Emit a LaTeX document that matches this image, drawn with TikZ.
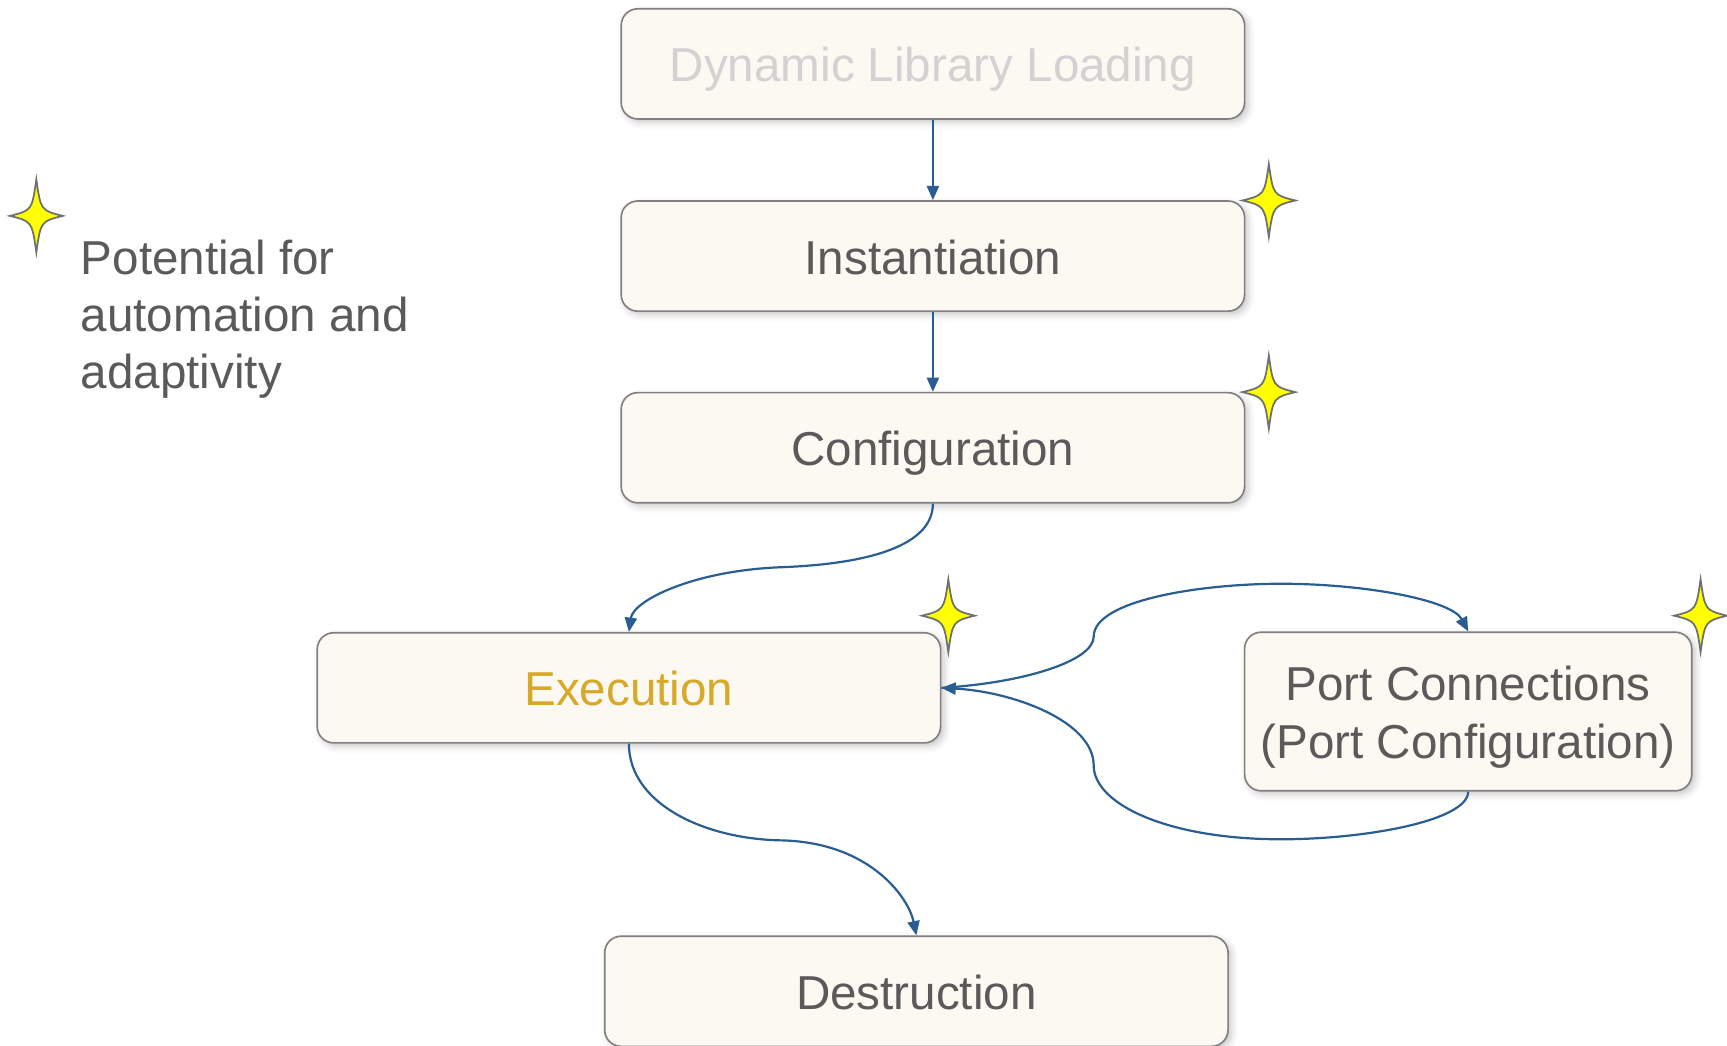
\documentclass[tikz,border=0pt]{standalone}
\usepackage{fontspec}
\setmainfont{Liberation Sans}
\usetikzlibrary{arrows.meta,shadows.blur}
\definecolor{boxfill}{HTML}{FCF8F2}
\definecolor{boxline}{HTML}{808080}
\definecolor{textgray}{HTML}{5A5A5A}
\definecolor{fadedtext}{HTML}{D2D2D2}
\definecolor{goldtext}{HTML}{D8A828}
\definecolor{arrowblue}{HTML}{2A5D92}
\definecolor{stargray}{HTML}{707070}
\definecolor{staryellow}{HTML}{FFFF00}
\begin{document}
\begin{tikzpicture}[x=0.5pt,y=-0.5pt,
  box/.style={draw=boxline, line width=0.75pt, fill=boxfill, rounded corners=7.5pt,
    minimum width=283pt, minimum height=50pt, inner sep=0pt, text=textgray,
    font=\fontsize{21.6}{26.5}\selectfont, align=center,
    text height=18.6pt, text depth=2.2pt,
    blur shadow={shadow xshift=1.5pt, shadow yshift=-1.5pt, shadow blur radius=3pt, shadow opacity=22}},
  conn/.style={draw=arrowblue, line width=1pt, -{Triangle[length=6.5pt,width=5.5pt]}},
  legendtxt/.style={text=textgray, font=\fontsize{21.6}{26}\selectfont, align=left, inner sep=0pt},
  star4/.pic={\draw[fill=staryellow, draw=stargray, line width=0.8pt]
    (0,-33) .. controls (4,-5) .. (24,0) .. controls (4,5) .. (0,33)
    .. controls (-4,5) .. (-24,0) .. controls (-4,-5) .. (0,-33) -- cycle;}
]
\useasboundingbox (0,0) rectangle (1568,949);

\node[box, text=fadedtext] (dll) at (847,58) {Dynamic Library Loading};
\node[box] (inst) at (847,232.5) {Instantiation};
\node[box] (conf) at (847,406.5) {Configuration};
\node[box, text=goldtext] (exe) at (571,624.5) {Execution};
\node[box, minimum width=203pt, minimum height=72pt, text height=45pt, text depth=2pt] (port) at (1333,646) {Port Connections\\(Port Configuration)};
\node[box] (dest) at (832,900) {Destruction};

\node[legendtxt, anchor=west] (legend) at (73,290) {Potential for\\automation and\\adaptivity};

\pic at (33,196) {star4};
\pic at (1152,182) {star4};
\pic at (1152,356) {star4};
\pic at (861,559) {star4};
\pic at (1544,559) {star4};

\draw[conn] (dll) -- (inst);
\draw[conn] (inst) -- (conf);
\draw[conn] (conf.south) .. controls (847,495) and (790,512) .. (709,515)
  .. controls (630,518) and (575,545) .. (exe.north);
\draw[conn] (exe.south) .. controls (571,730) and (640,762) .. (710,763)
  .. controls (790,765) and (825,815) .. (dest.north);
\draw[conn] (exe.east) .. controls (930,620) and (993,600) .. (993,578)
  .. controls (993,545) and (1090,530) .. (1163,530)
  .. controls (1240,530) and (1318,545) .. (port.north);
\draw[conn] (port.south) .. controls (1333,745) and (1240,762) .. (1163,762)
  .. controls (1060,762) and (993,730) .. (993,695)
  .. controls (993,655) and (920,628) .. (exe.east);
\end{tikzpicture}
\end{document}
